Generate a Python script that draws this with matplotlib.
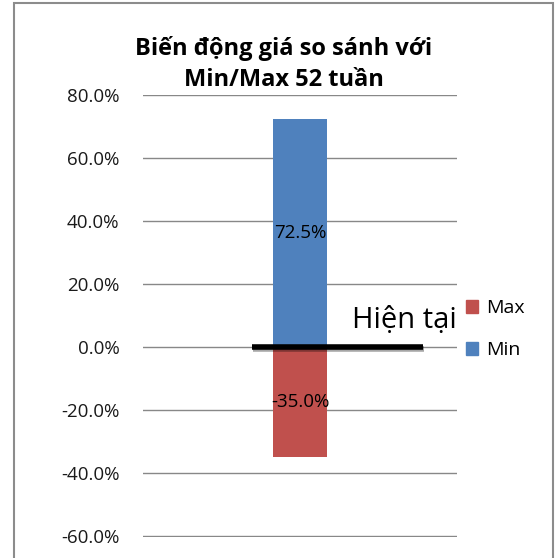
import matplotlib.pyplot as plt
import matplotlib.patheffects as pe
import matplotlib.transforms as mtransforms
from matplotlib.patches import Patch, Rectangle
from matplotlib.ticker import PercentFormatter

plt.rcParams['font.family'] = ['Open Sans', 'DejaVu Sans']
plt.rcParams['axes.unicode_minus'] = False

title = "Biến động giá so sánh với\nMin/Max 52 tuần"
series = ["Max", "Min"]
values = [-0.35, 0.725]
colors = ["#C0504D", "#4F81BD"]
current = 0.0
current_label = "Hiện tại"
yticks = [-0.6, -0.4, -0.2, 0.0, 0.2, 0.4, 0.6, 0.8]

fig = plt.figure(figsize=(5.57, 5.58), dpi=100)
ax = fig.add_axes([143 / 557, 1 - 537 / 558, 314 / 557, (537 - 95) / 558])

for name, val, col in zip(series, values, colors):
    ax.bar(0, val, width=0.169, color=col, zorder=3)
    ax.text(0, val / 2, f"{val * 100:.1f}%", ha="center", va="center",
            fontsize=13.5, color="black", zorder=5)

ax.set_xlim(-0.5, 0.5)
ax.set_ylim(yticks[0] - 0.004, yticks[-1])
ax.set_yticks(yticks)
ax.yaxis.set_major_formatter(PercentFormatter(1.0, decimals=1))
ax.set_xticks([])
ax.tick_params(axis="y", length=0, pad=17, labelsize=13.5, labelcolor="#1a1a1a")
ax.grid(axis="y", color="#888888", linewidth=1.0, zorder=0)
for s in ax.spines.values():
    s.set_visible(False)

# current-price marker line with a soft shadow
ax.axhline(current, xmin=0.347, xmax=0.892, color="black", linewidth=4,
           solid_capstyle="butt", zorder=6,
           path_effects=[pe.SimpleLineShadow(offset=(1, -1.5), alpha=0.35),
                         pe.Normal()])
trans = mtransforms.blended_transform_factory(ax.transAxes, ax.transData)
ax.text(0.666, current + 0.06, current_label, fontsize=21, ha="left",
        va="baseline", transform=trans, zorder=6)

fig.text(283.5 / 557, 1 - 64 / 558, title, ha="center", va="center",
         fontsize=17, fontweight="bold", linespacing=1.4)

handles = [Patch(color=c, label=n) for n, c in zip(series, colors)]
fig.legend(handles=handles, loc="center left",
           bbox_to_anchor=(448 / 557, 1 - 329 / 558), frameon=False,
           fontsize=14, handlelength=0.65, handleheight=0.65,
           handletextpad=0.4, labelspacing=1.25)

fig.patches.append(Rectangle((14 / 557, -0.05), (553 - 14) / 557,
                             1.05 - 3 / 558, transform=fig.transFigure,
                             fill=False, edgecolor="#8c8c8c", linewidth=1.5))

fig.savefig("out.png", dpi=100)
